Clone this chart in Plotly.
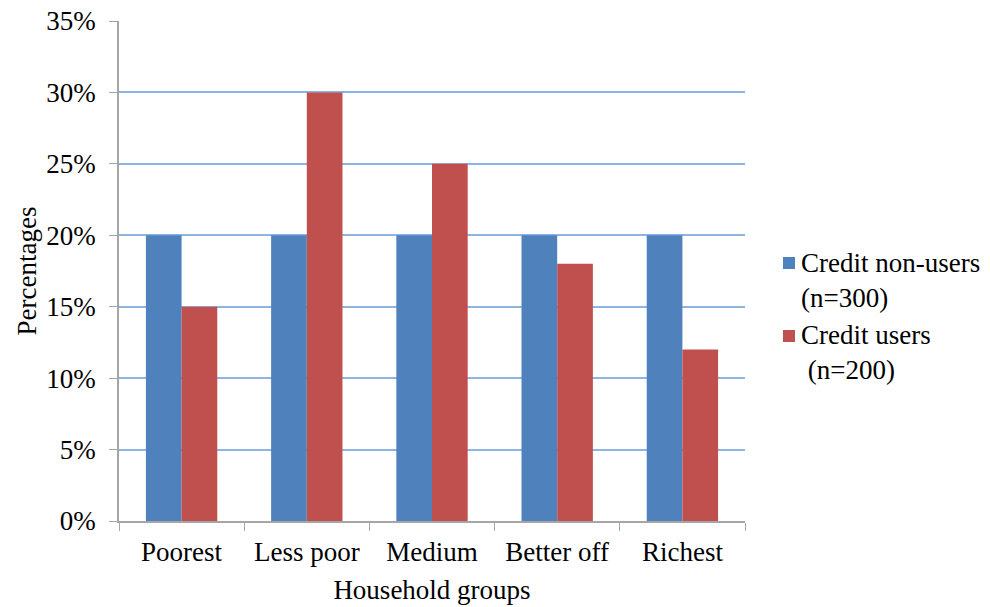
import plotly.graph_objects as go

groups = ["Poorest", "Less poor", "Medium", "Better off", "Richest"]
non_users = [20, 20, 20, 20, 20]
users = [15, 30, 25, 18, 12]
series_labels = ["Credit non-users<br>(n=300)", "Credit users<br> (n=200)"]
tick_vals = [0, 5, 10, 15, 20, 25, 30, 35]
tick_text = ["0%", "5%", "10%", "15%", "20%", "25%", "30%", "35%"]

FONT = "Liberation Serif"
FS = 27
BLUE = "#4F81BD"
RED = "#C0504D"

fig = go.Figure()
fig.add_trace(go.Bar(x=groups, y=non_users, name=series_labels[0],
                     marker=dict(color=BLUE, line=dict(width=0))))
fig.add_trace(go.Bar(x=groups, y=users, name=series_labels[1],
                     marker=dict(color=RED, line=dict(width=0))))

# Legend drawn as swatches + serif text on the right side
legend_items = [(series_labels[0], BLUE, 0.516, 0.482),
                (series_labels[1], RED, 0.370, 0.336)]
for label, color, sy, ty in legend_items:
    fig.add_shape(type="rect", xref="paper", yref="paper",
                  x0=1.0607, x1=1.0799, y0=sy - 0.012, y1=sy + 0.012,
                  fillcolor=color, line=dict(width=0))
    fig.add_annotation(text=label, xref="paper", yref="paper",
                       x=1.087, y=ty, xanchor="left", yanchor="middle",
                       align="left", showarrow=False,
                       font=dict(family=FONT, size=FS, color="black"))

fig.update_layout(
    width=990, height=607,
    margin=dict(l=119, r=245, t=21, b=86, autoexpand=False),
    paper_bgcolor="white", plot_bgcolor="white",
    barmode="group", bargap=0.43, bargroupgap=0,
    font=dict(family=FONT, size=FS, color="black"),
    showlegend=False,
)
fig.update_xaxes(
    showline=True, linecolor="#A6A6A6", linewidth=1.5,
    ticks="outside", tickson="boundaries", ticklen=8, tickcolor="#A6A6A6",
    showgrid=False, mirror=False,
    tickfont=dict(family=FONT, size=FS),
    title=dict(text="Household groups", font=dict(family=FONT, size=FS), standoff=14),
    ticklabelstandoff=6,
)
fig.update_yaxes(
    range=[0, 35], tickvals=tick_vals, ticktext=tick_text,
    showline=True, linecolor="#A6A6A6", linewidth=1.5,
    ticks="outside", ticklen=8, tickcolor="#A6A6A6",
    showgrid=True, gridcolor="#8EB4E3", gridwidth=1.5,
    zeroline=False,
    tickfont=dict(family=FONT, size=FS),
    title=dict(text="Percentages", font=dict(family=FONT, size=FS), standoff=2),
    ticklabelstandoff=8,
)

fig.write_html("out.html")
